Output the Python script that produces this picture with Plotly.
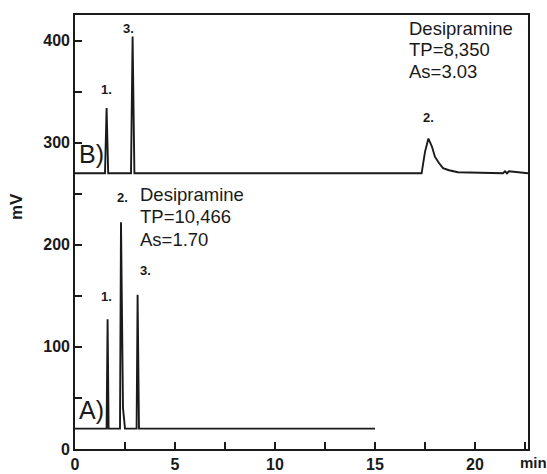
import plotly.graph_objects as go

# Chromatogram B (upper trace, offset baseline ~270 mV)
b_time = [0, 1.50, 1.58, 1.66, 2.80, 2.88, 2.97, 17.33, 17.50, 17.67, 17.85, 18.00,
          18.20, 18.40, 18.70, 19.15, 21.40, 21.50, 21.60, 21.70, 22.65]
b_mv = [270, 270, 334, 270, 270, 404, 270, 270, 291, 304, 296, 286,
        280, 275, 273, 271, 270, 272, 270, 272, 270]

# Chromatogram A (lower trace, baseline ~20 mV)
a_time = [0, 1.58, 1.63, 1.68, 2.25, 2.30, 2.40, 2.50, 3.08, 3.13, 3.20, 15.0]
a_mv = [20, 20, 127, 20, 20, 222, 40, 20, 20, 151, 20, 20]

x_ticks = [0, 5, 10, 15, 20]
y_ticks = [0, 100, 200, 300, 400]

# Peak labels: (time, mV, text)
peak_labels_b = [(1.55, 352, "1."), (2.65, 412, "3."), (17.65, 325, "2.")]
peak_labels_a = [(1.55, 149, "1."), (2.35, 246, "2."), (3.5, 175, "3.")]

info_a = ["Desipramine", "TP=10,466", "As=1.70"]
info_b = ["Desipramine", "TP=8,350", "As=3.03"]

FONT = "Liberation Sans, Arial, sans-serif"
INK = "#1a1a1a"

W, H = 547, 474
L, R, T, B = 75, 19, 15, 25


def px_to_paper(xp, yp):
    return (xp - L) / (W - L - R), (H - B - yp) / (H - T - B)


fig = go.Figure()
fig.add_trace(go.Scatter(x=b_time, y=b_mv, mode="lines",
                         line=dict(color=INK, width=1.9), showlegend=False))
fig.add_trace(go.Scatter(x=a_time, y=a_mv, mode="lines",
                         line=dict(color=INK, width=1.9), showlegend=False))

ann = []
for x, y, t in peak_labels_b + peak_labels_a:
    ann.append(dict(x=x, y=y, xref="x", yref="y", text=t, showarrow=False,
                    font=dict(family=FONT, size=13, color=INK, weight="bold")))

for t, y in zip(info_a, [249, 227.5, 205]):
    ann.append(dict(x=3.15, y=y, xref="x", yref="y", text=t, showarrow=False,
                    xanchor="left", font=dict(family=FONT, size=18.5, color=INK)))
for t, y in zip(info_b, [412, 391, 370]):
    ann.append(dict(x=16.6, y=y, xref="x", yref="y", text=t, showarrow=False,
                    xanchor="left", font=dict(family=FONT, size=18.5, color=INK)))

ann.append(dict(x=0.12, y=289, xref="x", yref="y", text="B)", showarrow=False,
                xanchor="left", font=dict(family=FONT, size=25, color=INK)))
ann.append(dict(x=0.12, y=38, xref="x", yref="y", text="A)", showarrow=False,
                xanchor="left", font=dict(family=FONT, size=25, color=INK)))

mx, my = px_to_paper(533, 462)
ann.append(dict(x=mx, y=my, xref="paper", yref="paper", text="min", showarrow=False,
                xanchor="center", yanchor="middle",
                font=dict(family=FONT, size=15, color=INK, weight="bold")))
vx, vy = px_to_paper(16, 207)
ann.append(dict(x=vx, y=vy, xref="paper", yref="paper", text="mV", showarrow=False,
                textangle=-90, xanchor="center", yanchor="middle",
                font=dict(family=FONT, size=17, color=INK, weight="bold")))

axis_common = dict(ticks="inside", ticklen=7, tickwidth=1.5, tickcolor=INK,
                   showline=True, linecolor=INK, linewidth=1.6, mirror=True,
                   showgrid=False, zeroline=False, automargin=False,
                   tickfont=dict(family=FONT, size=16, color=INK, weight="bold"))

fig.update_layout(
    width=W, height=H,
    margin=dict(l=L, r=R, t=T, b=B, autoexpand=False),
    paper_bgcolor="white", plot_bgcolor="white",
    annotations=ann,
    xaxis=dict(range=[0, 22.65], tickvals=x_ticks,
               minor=dict(ticks="inside", dtick=2.5, ticklen=7, tickwidth=1.5,
                          tickcolor=INK, showgrid=False),
               **axis_common),
    yaxis=dict(range=[0, 425], tickvals=y_ticks,
               minor=dict(ticks="inside", dtick=50, ticklen=7, tickwidth=1.5,
                          tickcolor=INK, showgrid=False),
               **axis_common),
)

fig.write_html("out.html", config={"displayModeBar": False},
               post_script="document.body.style.margin='0';")
